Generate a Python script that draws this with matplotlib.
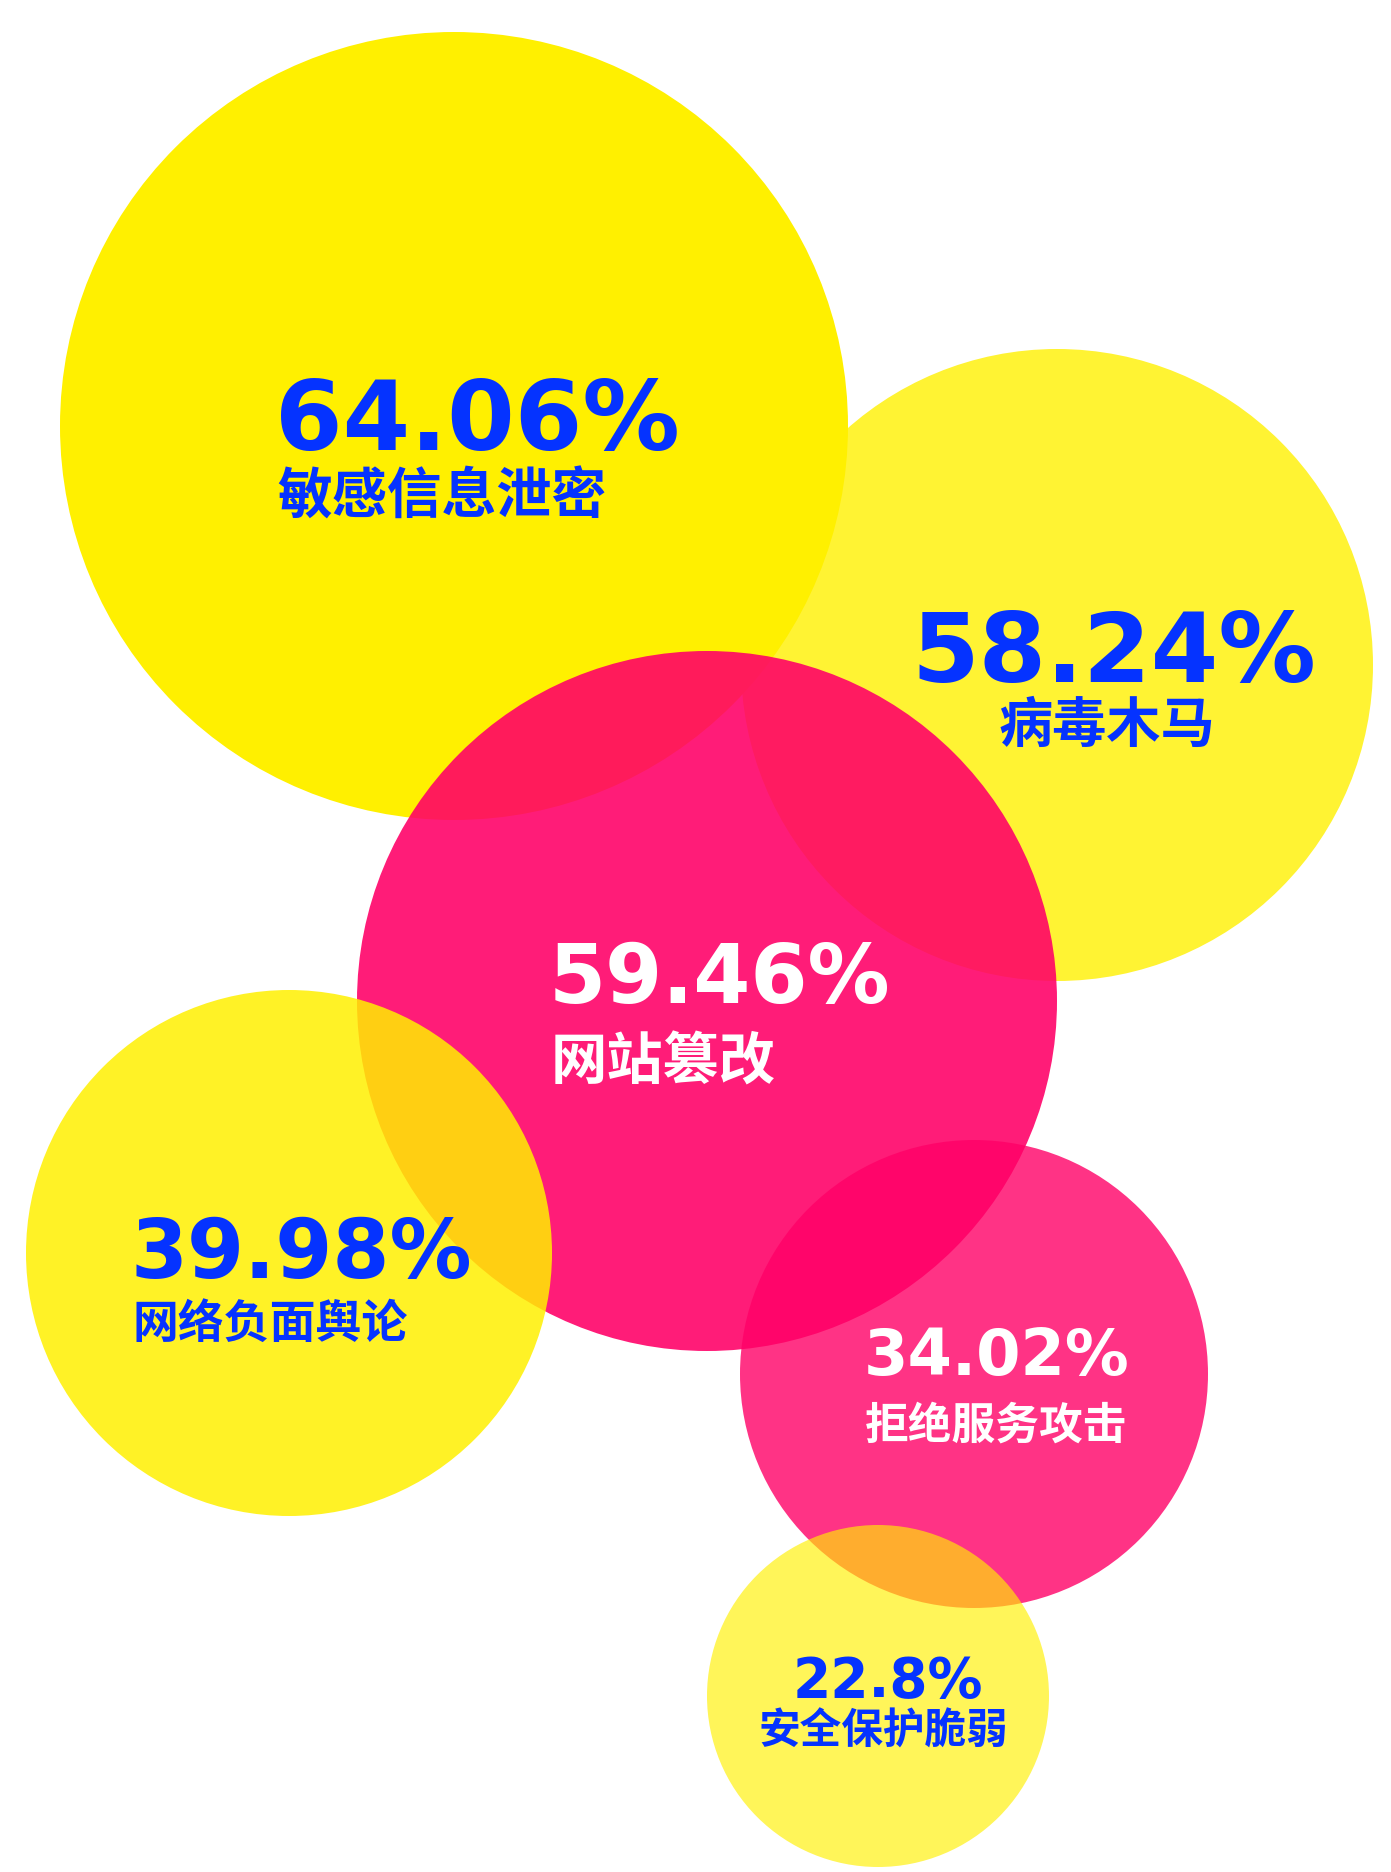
import matplotlib
matplotlib.use("Agg")
import matplotlib.pyplot as plt
from matplotlib.patches import Circle

# ---- data ----
labels = ["敏感信息泄密", "病毒木马", "网站篡改", "网络负面舆论", "拒绝服务攻击", "安全保护脆弱"]
values = [64.06, 58.24, 59.46, 39.98, 34.02, 22.8]

# ---- layout (pixel space of a 1391x1872 canvas) ----
cx = [454, 1057, 707, 289, 974, 878]
cy = [426, 665, 1001, 1253, 1374, 1696]
rad = [394, 316, 350, 263, 234, 171]
fill = ["#FFF000", "#FFF000", "#FF0067", "#FFF000", "#FF0067", "#FFF000"]
alpha = [1.0, 0.8, 0.89, 0.85, 0.8, 0.65]
txt_color = ["#0533FF", "#0533FF", "#FFFFFF", "#0533FF", "#FFFFFF", "#0533FF"]
num_x = [275, 1114, 549, 131, 864, 888]
num_base = [450, 682, 1003, 1278, 1375, 1697]
num_size = [70, 70, 59, 59, 46, 39.5]
lab_x = [277, 1107, 551, 132, 865, 883]
lab_base = [514, 742, 1080, 1338, 1439, 1744]
lab_size = [39.5, 39, 40.5, 33, 31.5, 30]
align = ["left", "center", "left", "left", "left", "center"]

W, H = 1391, 1872
fig = plt.figure(figsize=(W / 100, H / 100), dpi=100)
ax = fig.add_axes([0, 0, 1, 1])
ax.set_xlim(0, W)
ax.set_ylim(H, 0)
ax.set_aspect("equal")
ax.axis("off")

for i in range(len(values)):
    ax.add_patch(Circle((cx[i], cy[i]), rad[i], facecolor=fill[i],
                        edgecolor="none", alpha=alpha[i], zorder=1 + i))

for i in range(len(values)):
    ax.text(num_x[i], num_base[i], f"{values[i]}%", ha=align[i], va="baseline",
            fontsize=num_size[i], fontweight="bold", color=txt_color[i],
            family=["DejaVu Sans"], zorder=20)
    ax.text(lab_x[i], lab_base[i], labels[i], ha=align[i], va="baseline",
            fontsize=lab_size[i], fontweight="heavy", color=txt_color[i],
            family=["Noto Sans CJK SC", "DejaVu Sans"], zorder=20)

fig.savefig("out.png", dpi=100, facecolor="white")
